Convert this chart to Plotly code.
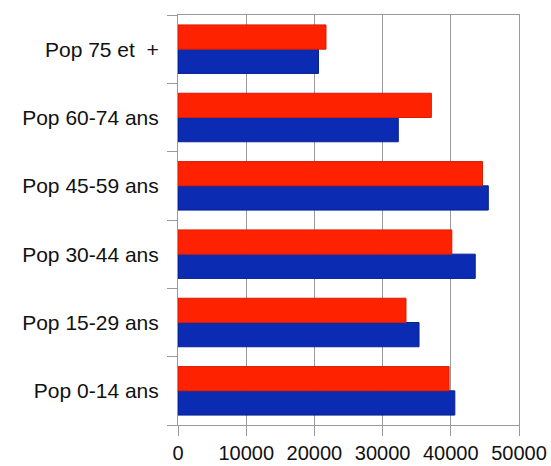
import plotly.graph_objects as go

categories = ["Pop 0-14 ans", "Pop 15-29 ans", "Pop 30-44 ans", "Pop 45-59 ans", "Pop 60-74 ans", "Pop 75 et  +"]
blue_values = [40590, 35340, 43580, 45500, 32300, 20600]
red_values = [39750, 33430, 40150, 44650, 37150, 21700]
x_ticks = [0, 10000, 20000, 30000, 40000, 50000]

fig = go.Figure()
fig.add_trace(go.Bar(y=categories, x=blue_values, orientation="h",
                     marker=dict(color="#0B2BB2", line=dict(color="#06208F", width=1)),
                     showlegend=False))
fig.add_trace(go.Bar(y=categories, x=red_values, orientation="h",
                     marker=dict(color="#FF2200", line=dict(color="#D81C00", width=1)),
                     showlegend=False))

fig.update_layout(
    width=551, height=466,
    margin=dict(l=178, r=32, t=15, b=41, autoexpand=False),
    paper_bgcolor="white", plot_bgcolor="white",
    barmode="group", bargap=0.29, bargroupgap=0,
    font=dict(family="Liberation Sans, Arial, sans-serif", size=21, color="#111111"),
)
fig.update_xaxes(range=[0, 50000], tickvals=x_ticks, ticktext=[str(v) for v in x_ticks],
                 showgrid=True, gridcolor="#9a9a9a", gridwidth=1,
                 showline=True, linecolor="#9a9a9a", linewidth=1, mirror=True,
                 ticks="outside", ticklen=10, tickcolor="#9a9a9a",
                 zeroline=False, tickfont=dict(size=20), automargin=False,
                 ticklabelstandoff=0)
fig.update_yaxes(categoryorder="array", categoryarray=categories,
                 showline=True, linecolor="#9a9a9a", linewidth=1, mirror=True,
                 ticks="outside", ticklen=10, tickcolor="#9a9a9a", tickson="boundaries",
                 showgrid=False, ticklabelstandoff=14, tickfont=dict(size=21),
                 automargin=False)

fig.write_html("out.html")
